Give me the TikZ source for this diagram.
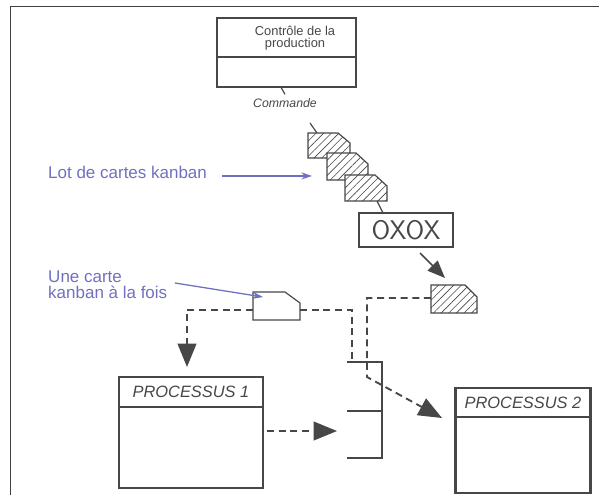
\documentclass[tikz,border=0pt]{standalone}
\usepackage{fontspec}
\setmainfont{Liberation Sans}
\usetikzlibrary{arrows.meta,positioning,calc,patterns.meta}

\begin{document}
\begin{tikzpicture}[x=0.03cm,y=-0.03cm]
\colorlet{ink}{black!72}
\definecolor{note}{RGB}{112,112,192}
\tikzset{box/.style={draw=ink,line width=1.9pt,inner sep=0pt,outer sep=0pt},
         fil/.style={draw=ink,line width=1pt},
         hatched/.style={draw=ink,line width=1pt,preaction={fill=white},
                         pattern={Lines[angle=45,distance=4.6pt,line width=0.55pt]},pattern color=ink},
         flux/.style={draw=ink,line width=1.6pt,dash pattern=on 6pt off 4pt},
         bigtip/.style={-{Triangle[length=20pt,width=16pt]}},
         renvoi/.style={draw=note,line width=1.1pt,-{Stealth[length=9pt,width=6pt]}},
         hand/.style={text=ink,font=\fontsize{11}{10}\selectfont},
         bluetext/.style={text=note,font=\fontsize{14.5}{13.6}\selectfont,inner sep=0pt}}
\useasboundingbox (0,0) rectangle (599,495);

% cadre
\draw[line width=0.8pt,black!75] (10,495) -- (10,6) -- (599,6);

% controle de la production
\node[box,line width=1.6pt,minimum width=4.17cm,minimum height=1.17cm] (ctrl) at (286.5,37.5) {};
\node[box,line width=1.6pt,minimum width=4.17cm,minimum height=0.9cm,below=0pt of ctrl] (ctrlbas) {};
\node[hand,align=center] (ctrltxt) at (295,38) {Contrôle de la\\production};
\node[hand,font=\fontsize{10.5}{10}\itshape] (commande) at (285,103) {Commande};
\draw[fil] ([xshift=-0.17cm]ctrlbas.south) -- (commande.north);

% lot de cartes kanban + carte seule
\foreach \nom/\cx/\cy/\w/\h/\v in {lot1/308/133/42/25/10, lot2/327/153/41/27/11,
                                   lot3/345/175/42/26/11, carteH/431/285/46/28/12}
{
    \coordinate (\nom) at (\cx,\cy);
    \draw[hatched] (\cx,\cy) -- (\cx+\w-12,\cy) -- (\cx+\w,\cy+\v) -- (\cx+\w,\cy+\h)
                   -- (\cx,\cy+\h) -- cycle;
}
\coordinate (attache) at (310,123);
\draw[fil] (attache) -- ($(lot1)+(9,0)$);

% OXOX
\node[box,line width=1.2pt,minimum width=2.82cm,minimum height=1.02cm,
      font=\sffamily\fontsize{23}{23}\selectfont,text=ink] (oxox) at (406,230) {OXOX};
\draw[fil] ($(lot3)+(32,26)$) -- ($(oxox.north west)+(24,0)$);
\draw[fil,line width=1.4pt,-{Triangle[length=15pt,width=12pt]}] ($(oxox.south)+(14,6)$) -- ($(carteH)+(14,-7)$);

% une carte kanban
\coordinate (carteB) at (253,292);
\draw[fil,fill=white] (carteB) -- ++(32,0) -- ++(15,11) -- ++(0,17) -- ++(-47,0) -- cycle;

% processus
\node[box,minimum width=4.32cm,minimum height=0.9cm,font=\fontsize{14}{14}\itshape,text=ink] (p1) at (191,392) {PROCESSUS 1};
\node[box,minimum width=4.32cm,minimum height=2.43cm,below=0pt of p1] (p1corps) {};
\node[box,minimum width=4.05cm,minimum height=0.87cm,font=\fontsize{14}{14}\itshape,text=ink] (p2) at (523,402.5) {PROCESSUS 2};
\node[box,minimum width=4.05cm,minimum height=2.28cm,below=0pt of p2] (p2corps) {};

% stock
\draw[box] (347,362) -- (382,362) -- (382,458) -- (347,458);
\draw[box] (347,411) -- (382,411);
\coordinate (stock) at (352,362);
\coordinate (stockentree) at (337,431);

% flux des cartes
\coordinate (entreeP1) at (187,367);
\coordinate (coude) at (367,377);
\coordinate (entreeP2) at (442,418);
\draw[flux,bigtip] ($(carteB)+(0,18)$) -| (entreeP1);
\draw[flux] ($(carteB)+(47,18)$) -| (stock);
\draw[flux,bigtip] ($(carteH)+(0,13)$) -| (coude) -- (entreeP2);
\draw[flux,bigtip] ($(p1corps.east |- stockentree)+(4,0)$) -- (stockentree);

% renvois
\node[bluetext,anchor=base west] (lot) at (48,178) {Lot de cartes kanban};
\draw[renvoi] ($(lot.east)+(15,4)$) -- ($(lot.east -| lot2)+(-15,4)$);
\node[bluetext,anchor=north west,align=left] (unecarte) at (48,271) {Une carte\\kanban à la fois};
\draw[renvoi] (175,283) -- ($(carteB)+(10,5)$);
\end{tikzpicture}
\end{document}
